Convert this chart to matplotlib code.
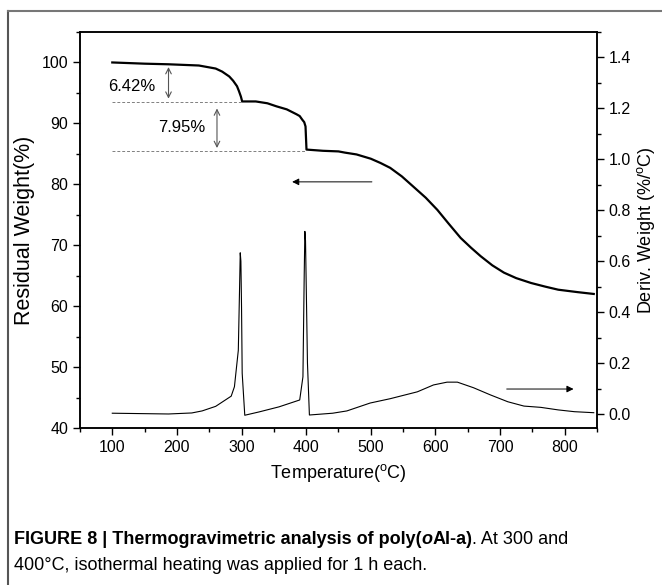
import numpy as np
import matplotlib
matplotlib.use("Agg")
import matplotlib.pyplot as plt
from matplotlib.ticker import MultipleLocator
from matplotlib import font_manager

# TGA curve (residual weight, %)
tga_temp = [100, 150, 187, 234, 260, 270, 281, 287, 293, 296, 299, 301, 322, 340, 354, 370, 385, 390, 394,
            397, 399, 400.5, 426, 450, 460, 478, 500, 515, 530, 548, 566, 585, 603, 620, 639, 655, 670,
            688, 706, 725, 748, 770, 790, 820, 845]
tga_weight = [100.0, 99.8, 99.7, 99.5, 99.0, 98.5, 97.7, 97.0, 96.1, 95.3, 94.4, 93.6, 93.6, 93.3, 92.8, 92.3,
              91.5, 91.2, 90.6, 90.2, 89.5, 85.7, 85.5, 85.4, 85.2, 84.9, 84.2, 83.5, 82.7, 81.3, 79.6, 77.8,
              75.8, 73.6, 71.2, 69.6, 68.2, 66.7, 65.5, 64.6, 63.8, 63.2, 62.7, 62.3, 62.0]

# DTG curve (deriv. weight, %/C)
dtg_temp = [100, 187, 223, 239, 260, 284, 289, 295, 297, 298, 299, 300, 301, 305, 327, 358,
            390, 395, 397, 398, 399, 402, 405, 441, 463, 499, 530, 572, 597, 618, 634,
            659, 685, 712, 737, 763, 790, 815, 845]
dtg_value = [0.003, 0.0, 0.004, 0.012, 0.03, 0.07, 0.107, 0.25, 0.5, 0.633, 0.6, 0.42, 0.16, -0.005, 0.008, 0.028,
             0.055, 0.146, 0.55, 0.717, 0.68, 0.2, -0.004, 0.003, 0.012, 0.043, 0.06, 0.087, 0.114, 0.125, 0.125,
             0.103, 0.075, 0.048, 0.031, 0.026, 0.016, 0.009, 0.005]

step_levels = [100.0, 93.5, 85.5]
step_labels = ["6.42%", "7.95%"]

font = "Liberation Sans"
plt.rcParams['font.family'] = [font, 'DejaVu Sans']
plt.rcParams['mathtext.fontset'] = 'custom'
plt.rcParams['mathtext.rm'] = font

fig = plt.figure(figsize=(6.62, 5.85), dpi=100)
ax = fig.add_axes([0.1208, 0.2684, 0.7810, 0.6769])
ax2 = ax.twinx()

ax.plot(tga_temp, tga_weight, color='black', lw=1.6)
ax2.plot(dtg_temp, dtg_value, color='black', lw=0.8)

ax.set_xlim(50, 850)
ax.set_ylim(40, 105)
ax2.set_ylim(-0.055, 1.5)

# dashed guide lines and step arrows
ax.plot([100, 300], [step_levels[1]] * 2, ls=(0, (3, 2)), color='gray', lw=0.7)
ax.plot([100, 400], [step_levels[2]] * 2, ls=(0, (3, 2)), color='gray', lw=0.7)
ax.annotate('', xy=(187, 93.6), xytext=(187, 99.7),
            arrowprops=dict(arrowstyle='<->', color='#555555', lw=0.8))
ax.annotate('', xy=(262, 85.5), xytext=(262, 92.9),
            arrowprops=dict(arrowstyle='<->', color='#555555', lw=0.8))
ax.text(130, 96.1, step_labels[0], ha='center', va='center', fontsize=12)
ax.text(207, 89.3, step_labels[1], ha='center', va='center', fontsize=12)

# axis pointer arrows
ax.annotate('', xy=(374, 80.4), xytext=(506, 80.4),
            arrowprops=dict(arrowstyle='-|>', color='black', lw=0.7, mutation_scale=10))
ax2.annotate('', xy=(818, 0.098), xytext=(706, 0.098),
             arrowprops=dict(arrowstyle='-|>', color='black', lw=0.7, mutation_scale=10))

ax.xaxis.set_major_locator(MultipleLocator(100))
ax.xaxis.set_minor_locator(MultipleLocator(50))
ax.yaxis.set_major_locator(MultipleLocator(10))
ax.yaxis.set_minor_locator(MultipleLocator(5))
ax2.yaxis.set_major_locator(MultipleLocator(0.2))
ax2.yaxis.set_minor_locator(MultipleLocator(0.1))
ax.set_xticks(range(100, 801, 100))
ax2.set_yticks(np.round(np.arange(0, 1.41, 0.2), 1))
ax2.set_yticklabels(['%.1f' % v for v in np.arange(0, 1.41, 0.2)])

for a in (ax, ax2):
    a.tick_params(which='major', direction='out', length=5, width=1, labelsize=11.5)
    a.tick_params(which='minor', direction='out', length=3, width=1)
    for s in a.spines.values():
        s.set_linewidth(1.1)
ax.tick_params(axis='x', which='both', top=False)

ax.set_xlabel(r'Temperature($^{\rm o}$C)', fontsize=13, labelpad=5)
ax.set_ylabel('Residual Weight(%)', fontsize=15.5, labelpad=5)
ax2.set_ylabel(r'Deriv. Weight (%/$^{\rm o}$C)', fontsize=13, labelpad=3)

# frame round the figure
fig.add_artist(plt.Line2D([8 / 662, 8 / 662], [0, 1 - 11 / 585], transform=fig.transFigure,
                          color='#555555', lw=1.5))
fig.add_artist(plt.Line2D([8 / 662, 1], [1 - 11 / 585, 1 - 11 / 585], transform=fig.transFigure,
                          color='#777777', lw=1.5))

# caption
names = {f.name for f in font_manager.fontManager.ttflist}
cap_font = 'Liberation Sans Narrow' if 'Liberation Sans Narrow' in names else font
cs = 13
t1 = fig.text(14 / 662, 1 - 540 / 585, 'FIGURE 8 | Thermogravimetric analysis of poly(', fontsize=cs,
              fontweight='bold', family=cap_font, va='center')
t2 = fig.text(0, 0, 'o', fontsize=cs, fontweight='bold', style='italic', family=cap_font, va='center')
t3 = fig.text(0, 0, 'Al-a)', fontsize=cs, fontweight='bold', family=cap_font, va='center')
t4 = fig.text(0, 0, '. At 300 and', fontsize=cs, family=cap_font, va='center')
fig.text(14 / 662, 1 - 566 / 585, '400°C, isothermal heating was applied for 1 h each.', fontsize=cs,
         family=cap_font, va='center')

r = fig.canvas.get_renderer()
prev = t1
for t in (t2, t3, t4):
    bb = prev.get_window_extent(r)
    t.set_position((bb.x1 / fig.bbox.width, 1 - 540 / 585))
    prev = t

fig.savefig('out.png', dpi=100)
